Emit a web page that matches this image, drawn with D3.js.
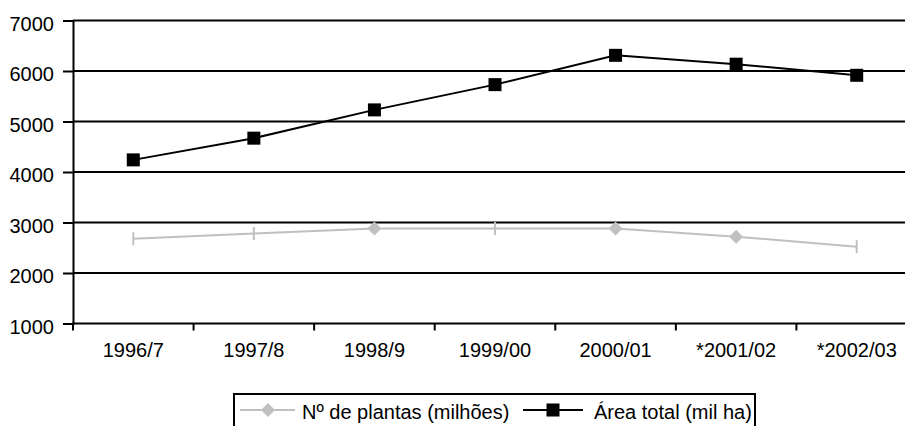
<!DOCTYPE html>
<html>
<head>
<meta charset="utf-8">
<script src="https://cdn.jsdelivr.net/npm/d3@7"></script>
<style>
  html, body { margin: 0; padding: 0; background: #fff; }
  svg { display: block; }
  text { font-family: "Liberation Sans", Arial, sans-serif; fill: #000; }
</style>
</head>
<body>
<svg id="chart" width="905" height="426"></svg>
<script>
const categories = ["1996/7", "1997/8", "1998/9", "1999/00", "2000/01", "*2001/02", "*2002/03"];
const plantas = [2680, 2780, 2880, 2880, 2880, 2720, 2520];
const area = [4240, 4670, 5230, 5730, 6310, 6135, 5915];
const plantasMarkers = ["bar", "bar", "diamond", "bar", "diamond", "diamond", "bar"];
const yTicks = [1000, 2000, 3000, 4000, 5000, 6000, 7000];
const seriesNames = ["Nº de plantas (milhões)", "Área total (mil ha)"];

const svg = d3.select("#chart");
const plotLeft = 73, plotRight = 917, plotTop = 20.5, plotBottom = 323.5;

const x = d3.scaleBand().domain(categories).range([plotLeft, plotRight]).paddingInner(0).paddingOuter(0);
const xc = d => x(d) + x.bandwidth() / 2;
const y = d3.scaleLinear().domain([1000, 7000]).range([plotBottom, plotTop]);

// gridlines
svg.append("g").selectAll("line").data(yTicks.filter(v => v > 1000)).join("line")
  .attr("x1", plotLeft).attr("x2", 905)
  .attr("y1", d => y(d)).attr("y2", d => y(d))
  .attr("stroke", "#000").attr("stroke-width", 2);

// y axis
const yAxis = svg.append("g").attr("transform", `translate(${plotLeft},0)`)
  .call(d3.axisLeft(y).tickValues(yTicks).tickSize(10).tickPadding(9).tickFormat(d3.format("d")));
yAxis.select(".domain").attr("stroke", "#000").attr("stroke-width", 2);
yAxis.selectAll(".tick line").attr("stroke-width", 2);
yAxis.selectAll("text").attr("font-size", 20).attr("dy", "0.48em")
  .attr("font-family", "Liberation Sans, Arial, sans-serif").attr("fill", "#000");

// x axis
const xAxisG = svg.append("g");
xAxisG.append("line").attr("x1", plotLeft - 1).attr("x2", 905).attr("y1", plotBottom).attr("y2", plotBottom)
  .attr("stroke", "#000").attr("stroke-width", 2);
xAxisG.selectAll("line.tk").data(categories).join("line").attr("class", "tk")
  .attr("x1", d => x(d)).attr("x2", d => x(d))
  .attr("y1", plotBottom).attr("y2", plotBottom + 7)
  .attr("stroke", "#000").attr("stroke-width", 2);
xAxisG.selectAll("text").data(categories).join("text")
  .attr("x", d => xc(d)).attr("y", 357)
  .attr("text-anchor", "middle").attr("font-size", 20)
  .text(d => d);

// plantas series
const lineGen = d3.line().x((d, i) => xc(categories[i])).y(d => y(d));
svg.append("path").datum(plantas).attr("d", lineGen)
  .attr("fill", "none").attr("stroke", "#c0c0c0").attr("stroke-width", 2);

function drawDiamond(g, cx, cy, color) {
  g.append("path").attr("d", `M${cx},${cy - 7}L${cx + 7},${cy}L${cx},${cy + 7}L${cx - 7},${cy}Z`).attr("fill", color);
}
const pg = svg.append("g");
plantas.forEach((v, i) => {
  const cx = xc(categories[i]), cy = y(v);
  if (plantasMarkers[i] === "diamond") drawDiamond(pg, cx, cy, "#c0c0c0");
  else pg.append("line").attr("x1", cx).attr("x2", cx).attr("y1", cy - 6.5).attr("y2", cy + 6.5)
    .attr("stroke", "#c0c0c0").attr("stroke-width", 2);
});

// area series
svg.append("path").datum(area).attr("d", lineGen)
  .attr("fill", "none").attr("stroke", "#000").attr("stroke-width", 2);
svg.append("g").selectAll("rect").data(area).join("rect")
  .attr("x", (d, i) => xc(categories[i]) - 6.5).attr("y", d => y(d) - 6.5)
  .attr("width", 13).attr("height", 13).attr("fill", "#000");

// legend
const lg = svg.append("g");
lg.append("rect").attr("x", 234).attr("y", 394).attr("width", 521).attr("height", 45)
  .attr("fill", "none").attr("stroke", "#000").attr("stroke-width", 2);
lg.append("line").attr("x1", 240).attr("x2", 295).attr("y1", 410).attr("y2", 410)
  .attr("stroke", "#c0c0c0").attr("stroke-width", 2);
drawDiamond(lg, 268, 410, "#c0c0c0");
lg.append("text").attr("x", 302).attr("y", 419).attr("font-size", 20).text(seriesNames[0]);
lg.append("line").attr("x1", 523).attr("x2", 583).attr("y1", 410).attr("y2", 410)
  .attr("stroke", "#000").attr("stroke-width", 2);
lg.append("rect").attr("x", 546.5).attr("y", 403.5).attr("width", 13).attr("height", 13).attr("fill", "#000");
lg.append("text").attr("x", 594).attr("y", 419).attr("font-size", 20).text(seriesNames[1]);
</script>
</body>
</html>
